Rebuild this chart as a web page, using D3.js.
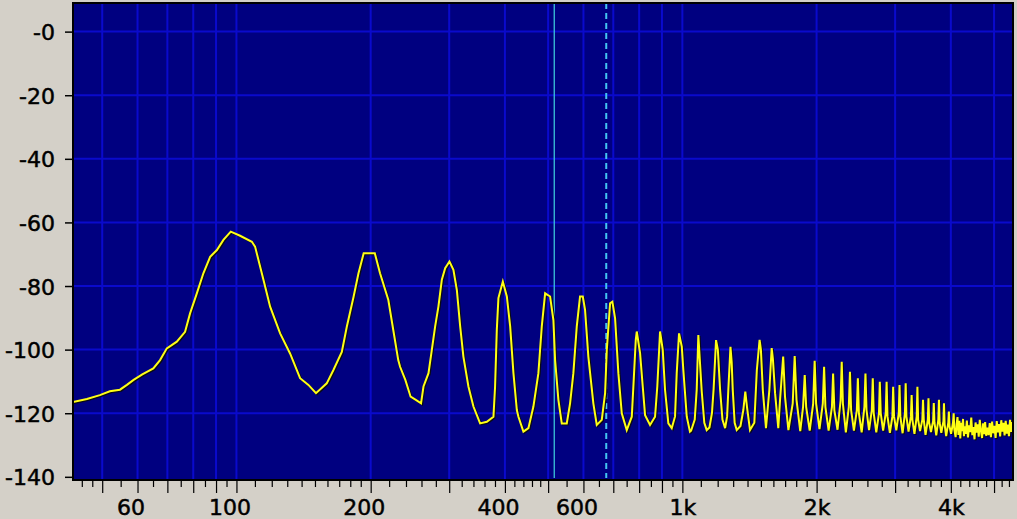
<!DOCTYPE html>
<html><head><meta charset="utf-8">
<script src="https://cdn.jsdelivr.net/npm/d3@7"></script>
<style>
html,body{margin:0;padding:0;background:#d4d0c8;overflow:hidden}
svg{display:block}
text{font-family:"DejaVu Sans",sans-serif;font-size:22px;fill:#000}
</style></head><body>
<svg id="chart" width="1017" height="519"></svg>
<script>
// spectrum: [frequency Hz, level dB]
const spectrum = [
[43.0,-116.5],[46.2,-115.5],[49.4,-114.3],[52.0,-113.1],[54.8,-112.6],[56.8,-111.1],[58.8,-109.5],[61.5,-107.8],[65.1,-105.9],[67.4,-103.3],[69.8,-99.6],[73.5,-97.5],[76.7,-94.4],[78.7,-88.6],[81.5,-82.3],[84.3,-76.0],[87.3,-70.8],[90.4,-68.7],[93.5,-65.5],[97.1,-62.9],[101.9,-64.2],[108.3,-66.1],[110.1,-67.6],[115.0,-78.1],[119.0,-86.5],[125.3,-94.9],[131.9,-101.2],[138.9,-109.0],[145.0,-111.1],[150.8,-113.7],[159.4,-110.6],[165.0,-106.4],[172.3,-100.7],[176.8,-92.8],[183.1,-83.4],[187.8,-76.0],[192.9,-69.7],[204.3,-69.7],[209.9,-76.0],[219.1,-84.4],[224.8,-93.9],[230.6,-103.3],
[232.8,-105.4],[239.2,-109.5],[245.8,-114.8],[252.5,-115.8],[259.4,-116.9],[262.7,-111.6],[269.6,-107.4],[274.3,-100.0],[279.0,-92.7],[283.8,-86.4],[288.8,-78.0],[293.8,-74.4],[300.4,-72.3],[306.6,-74.9],[312.1,-81.3],[317.5,-92.7],[322.8,-102.2],[331.3,-111.6],[340.0,-117.9],[351.9,-123.2],[364.3,-122.7],[377.0,-121.1],[380.2,-111.6],[383.6,-93.8],[386.8,-83.8],[395.7,-78.6],[404.0,-83.3],[411.0,-92.7],[418.0,-107.4],[425.4,-119.0],[428.9,-121.1],[440.1,-125.8],[451.6,-124.7],[463.4,-117.9],[475.5,-107.4],[483.9,-92.7],[492.3,-82.3],[505.1,-83.3],[513.8,-90.7],[518.3,-103.3],[527.2,-115.8],[536.5,-123.2],[550.5,-123.2],[560.0,-116.9],[569.6,-107.4],[579.7,-92.7],[589.6,-83.3],[598.0,-83.3],[605.0,-87.5],[615.4,-102.2],[631.5,-116.9],[642.7,-123.7],[659.6,-122.1],[671.0,-113.7],[676.9,-100.1],[688.5,-85.4],[696.7,-84.9],[706.5,-90.2],[718.6,-107.4],[731.3,-120.0],[750.4,-125.3],[770.1,-121.1],[776.5,-111.6],[786.2,-96.9],[790.2,-94.3],[803.8,-101.1],[815.0,-111.6],[824.8,-120.6],[846.3,-123.7],[868.4,-121.1],[878.6,-111.6],[891.2,-94.3],[903.6,-100.1],[914.5,-112.7],[930.2,-123.2],[946.6,-124.7],[962.9,-121.0],[971.3,-107.4],[983.0,-94.9],[997.0,-99.1],[1005,-106.4],[1023,-121.1],[1040,-125.8],
[1046,-125.5],[1066,-122.0],[1077,-112.5],[1086,-95.4],[1094,-103.0],[1105,-113.0],[1120,-123.0],[1134,-125.3],[1150,-124.5],
[1165,-120.0],[1175,-112.5],[1190,-97.0],[1201,-100.0],[1215,-112.5],[1230,-122.0],[1247,-124.7],
[1260,-121.0],[1268,-112.5],[1282,-99.1],[1290,-104.0],[1297,-112.5],[1310,-123.0],[1324,-125.3],
[1350,-124.0],[1370,-119.0],[1384,-113.2],[1396,-118.0],[1418,-125.3],
[1450,-123.0],[1469,-106.4],[1490,-96.9],[1500,-100.0],[1515,-112.7],[1540,-124.7],
[1567,-112.7],[1586,-99.5],[1596,-103.0],[1614,-113.7],[1641,-124.7],
[1656,-115.8],[1683,-102.2],[1699,-114.8],[1729,-125.3],
[1768,-116.9],[1786,-102.0],[1803,-115.8],[1838,-125.6],
[1865,-118.0],[1881,-108.0],[1895,-118.0],[1930,-125.5],
[1965,-117.0],[1980,-103.5],[1995,-117.0],[2030,-125.0],
[2065,-117.0],[2079,-105.4],[2093,-118.0],[2128,-125.5],
[2165,-118.0],[2178,-107.5],[2192,-119.0],[2228,-125.2],
[2264,-116.0],[2277,-103.8],[2291,-117.0],[2326,-126.0],
[2362,-118.0],[2376,-107.0],[2390,-119.0],[2425,-125.5],
[2462,-119.0],[2475,-109.0],[2488,-120.0],[2524,-126.0],
[2560,-118.0],[2574,-107.5],[2588,-119.0],[2622,-125.3],
[2660,-119.0],[2673,-109.0],[2686,-120.0],[2722,-126.0],
[2760,-120.0],[2772,-110.1],[2785,-120.0],[2820,-125.5],
[2858,-120.0],[2871,-110.1],[2884,-121.0],[2920,-126.2],
[2958,-121.0],[2970,-111.7],[2983,-121.0],[3018,-125.4],
[3057,-120.0],[3069,-111.1],[3082,-121.0],[3118,-126.3],
[3156,-120.0],[3168,-110.6],[3180,-121.0],[3215,-125.8],
[3255,-121.0],[3267,-114.3],[3280,-122.0],[3315,-126.5],
[3354,-121.0],[3366,-111.7],[3378,-122.0],[3412,-125.6],
[3453,-122.0],[3465,-115.8],[3478,-122.0],[3510,-126.8],
[3552,-122.0],[3564,-115.3],[3576,-123.0],[3610,-125.9],
[3650,-122.5],[3663,-116.8],[3676,-123.0],[3710,-127.0],
[3750,-122.0],[3762,-115.8],[3775,-123.0],[3808,-126.2],
[3850,-122.5],[3861,-116.9],[3874,-123.5],[3905,-127.2],
[3948,-123.0],[3960,-119.5],[3972,-124.0],[4005,-126.5],
[4045,-123.0],[4059,-120.0],[4072,-125.0],[4100,-127.5],
[4120,-123.5],[4140,-121.2],[4160,-126.8],[4180,-122.4],[4200,-127.9],[4220,-123.0],[4240,-125.6],[4260,-121.8],[4280,-127.2],[4300,-124.1],[4320,-126.5],[4345,-122.3],[4370,-127.6],[4395,-123.8],[4420,-125.9],[4445,-121.4],[4470,-126.9],[4495,-124.4],[4520,-128.2],[4545,-122.9],[4570,-126.1],[4595,-123.5],[4620,-127.4],[4645,-122.1],[4670,-125.2],[4700,-127.8],[4725,-123.2],[4750,-126.6],[4775,-122.8],[4800,-127.1],[4830,-124.5],[4860,-126.9],[4890,-123.1],[4920,-127.5],[4950,-122.6],[4980,-126.3],[5010,-124.0],[5040,-127.8],[5070,-122.5],[5100,-126.0],[5130,-123.4],[5160,-127.3],[5190,-122.2],[5220,-125.8],[5250,-123.0],[5280,-127.0],[5310,-122.4],[5340,-126.4],[5370,-123.6],[5400,-127.2],[5430,-122.1],[5460,-125.9],[5490,-122.8],[5514,-124.6]
];
const yTickValues = [0,-20,-40,-60,-80,-100,-120,-140];
const yGridValues = [0,-20,-40,-60,-80,-100,-120];
const xLabelValues = [60,100,200,400,600,1000,2000,4000];
const xMajorValues = [50,60,70,80,90,100,200,300,400,500,600,700,800,900,1000,2000,3000,4000,5000];
const xMinorValues = [45,47.5,55,65,75,85,95,110,120,130,140,150,160,170,180,190,220,240,260,280,320,340,360,380,420,440,460,480,550,650,750,850,950,1100,1200,1300,1400,1500,1600,1700,1800,1900,2200,2400,2600,2800,3200,3400,3600,3800,4200,4400,4600,4800,5200,5400];
const cursorHz = [516, 675];

const m = {left:73, top:3, right:1013, bottom:480};
const x = d3.scaleLog().domain([43,5514]).range([m.left,m.right]);
const y = d3.scaleLinear().domain([-141,9]).range([m.bottom,m.top]);
const svg = d3.select("#chart");

svg.append("defs").append("clipPath").attr("id","plot")
  .append("rect").attr("x",m.left).attr("y",m.top).attr("width",m.right-m.left).attr("height",m.bottom-m.top);

svg.append("rect").attr("x",m.left).attr("y",m.top).attr("width",m.right-m.left).attr("height",m.bottom-m.top).attr("fill","#000080");

const grid = svg.append("g").attr("clip-path","url(#plot)");
grid.selectAll("line.v").data(xMajorValues).join("line").attr("class","v")
  .attr("x1",d=>x(d)).attr("x2",d=>x(d)).attr("y1",m.top).attr("y2",m.bottom)
  .attr("stroke","#0a0acc").attr("stroke-width",2);
grid.selectAll("line.h").data(yGridValues).join("line").attr("class","h")
  .attr("y1",d=>y(d)).attr("y2",d=>y(d)).attr("x1",m.left).attr("x2",m.right)
  .attr("stroke","#0a0acc").attr("stroke-width",2);

// cursors
const cur = svg.append("g").attr("clip-path","url(#plot)");
cur.append("line").attr("x1",x(cursorHz[0])).attr("x2",x(cursorHz[0])).attr("y1",m.top).attr("y2",m.bottom-2)
  .attr("stroke","#40d4e0").attr("stroke-width",1.2);
cur.append("line").attr("x1",x(cursorHz[1])).attr("x2",x(cursorHz[1])).attr("y1",m.top).attr("y2",m.bottom-2)
  .attr("stroke","#44c6f2").attr("stroke-width",2).attr("stroke-dasharray","6,4");

// curve
const line = d3.line().x(d=>x(d[0])).y(d=>y(d[1]));
const cg = svg.append("g").attr("clip-path","url(#plot)");
cg.append("path").datum(spectrum).attr("d",line).attr("fill","none")
  .attr("stroke","#0a0a14").attr("stroke-width",2).attr("transform","translate(1.2,1)").attr("stroke-linejoin","miter");
cg.append("path").datum(spectrum).attr("d",line).attr("fill","none")
  .attr("stroke","#ffff14").attr("stroke-width",2).attr("stroke-linejoin","miter");

// frame
svg.append("rect").attr("x",m.left).attr("y",m.top).attr("width",m.right-m.left).attr("height",m.bottom-m.top)
  .attr("fill","none").attr("stroke","#000").attr("stroke-width",2);

// y axis
const yAxis = svg.append("g").attr("transform",`translate(${m.left-1},0)`)
  .call(d3.axisLeft(y).tickValues(yTickValues).tickSize(7).tickPadding(10)
    .tickFormat(d=>"-"+Math.abs(d)));
yAxis.select(".domain").remove();
yAxis.selectAll("text").attr("dy","0.37em").style("font-size","22px").style("font-family","DejaVu Sans, sans-serif")
  .attr("stroke","#000").attr("stroke-width",0.5);
yAxis.selectAll("line").attr("stroke","#000").attr("stroke-width",1.5);

// x axis ticks
const xMaj = svg.append("g").attr("transform",`translate(0,${m.bottom+1})`)
  .call(d3.axisBottom(x).tickValues(xMajorValues).tickSize(12).tickFormat(""));
xMaj.select(".domain").remove();
xMaj.selectAll("line").attr("stroke","#000").attr("stroke-width",1.2);
const xMin = svg.append("g").attr("transform",`translate(0,${m.bottom+1})`)
  .call(d3.axisBottom(x).tickValues(xMinorValues).tickSize(6).tickFormat(""));
xMin.select(".domain").remove();
xMin.selectAll("line").attr("stroke","#000").attr("stroke-width",1.2);
const xLab = svg.append("g").attr("transform",`translate(0,${m.bottom+1})`)
  .call(d3.axisBottom(x).tickValues(xLabelValues).tickSize(0).tickPadding(18)
    .tickFormat(d=> d>=1000 ? (d/1000)+"k" : String(d)));
xLab.select(".domain").remove();
xLab.selectAll("text").style("font-size","22px").style("font-family","DejaVu Sans, sans-serif")
  .attr("stroke","#000").attr("stroke-width",0.5)
  .attr("dx",d=> d>=1000 ? 0 : -7);
</script>
</body></html>
